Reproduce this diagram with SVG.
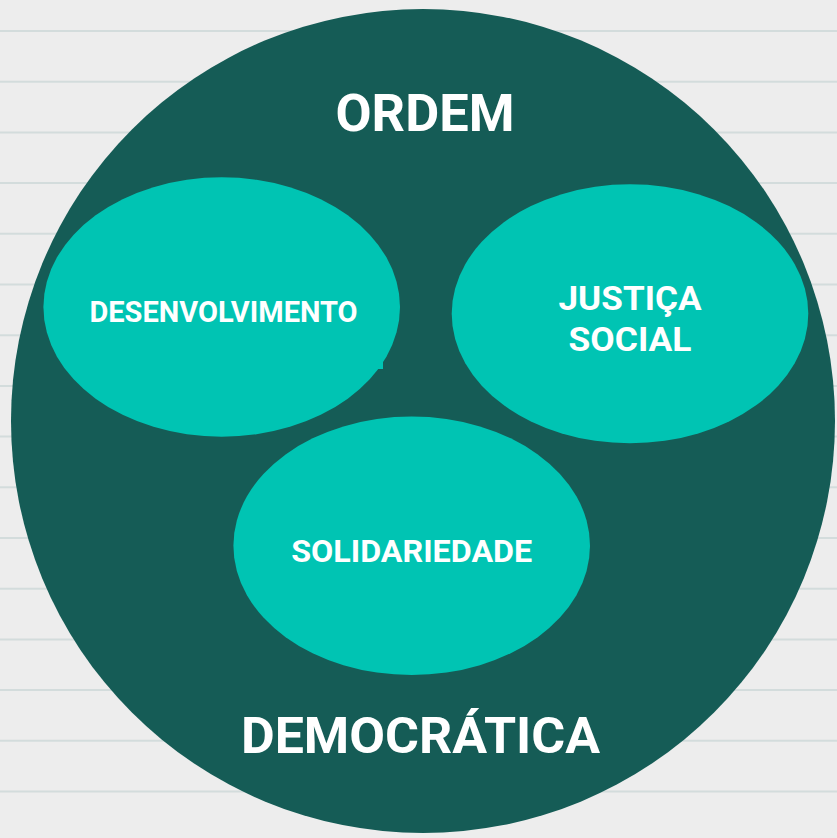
<svg xmlns="http://www.w3.org/2000/svg" width="837" height="838" viewBox="0 0 837 838">
  <defs>
    <style>
      .bg { fill: #ededed; }
      .rule { stroke: #d3dcdc; stroke-width: 2; }
      .outer { fill: #155c56; }
      .inner { fill: #00c4b3; }
      .t { font-family: Roboto, "Liberation Sans", sans-serif; font-weight: 700; fill: #ffffff; text-anchor: middle; }
    </style>
  </defs>
  <rect class="bg" x="0" y="0" width="837" height="838"/>
  <g id="rules">
    <line class="rule" x1="0" y1="31" x2="837" y2="31"/>
    <line class="rule" x1="0" y1="81.7" x2="837" y2="81.7"/>
    <line class="rule" x1="0" y1="132.4" x2="837" y2="132.4"/>
    <line class="rule" x1="0" y1="183.1" x2="837" y2="183.1"/>
    <line class="rule" x1="0" y1="233.8" x2="837" y2="233.8"/>
    <line class="rule" x1="0" y1="284.5" x2="837" y2="284.5"/>
    <line class="rule" x1="0" y1="335.2" x2="837" y2="335.2"/>
    <line class="rule" x1="0" y1="385.9" x2="837" y2="385.9"/>
    <line class="rule" x1="0" y1="436.6" x2="837" y2="436.6"/>
    <line class="rule" x1="0" y1="487.3" x2="837" y2="487.3"/>
    <line class="rule" x1="0" y1="538" x2="837" y2="538"/>
    <line class="rule" x1="0" y1="588.7" x2="837" y2="588.7"/>
    <line class="rule" x1="0" y1="639.4" x2="837" y2="639.4"/>
    <line class="rule" x1="0" y1="690.1" x2="837" y2="690.1"/>
    <line class="rule" x1="0" y1="740.8" x2="837" y2="740.8"/>
    <line class="rule" x1="0" y1="791.5" x2="837" y2="791.5"/>
  </g>
  <g id="ordem-democratica">
    <circle class="outer" cx="423" cy="421" r="412"/>
    <text class="t" x="425" y="131" font-size="51" textLength="179" lengthAdjust="spacingAndGlyphs">ORDEM</text>
    <text class="t" x="420.5" y="753" font-size="50.5" textLength="359" lengthAdjust="spacingAndGlyphs">DEMOCRÁTICA</text>
  </g>
  <g id="desenvolvimento">
    <ellipse class="inner" cx="221.7" cy="307" rx="178.3" ry="129.7"/>
    <rect class="inner" x="377" y="362" width="6" height="7"/>
    <text class="t" x="223.5" y="321.5" font-size="29">DESENVOLVIMENTO</text>
  </g>
  <g id="justica-social">
    <ellipse class="inner" cx="630" cy="313.8" rx="178.3" ry="129.5"/>
    <text class="t" x="630" y="310" font-size="33.5" textLength="143" lengthAdjust="spacingAndGlyphs">JUSTIÇA</text>
    <text class="t" x="630" y="351" font-size="33.5" textLength="123" lengthAdjust="spacingAndGlyphs">SOCIAL</text>
  </g>
  <g id="solidariedade">
    <ellipse class="inner" cx="411.7" cy="545.8" rx="178.3" ry="129.2"/>
    <text class="t" x="411.7" y="561.5" font-size="31.5" textLength="241" lengthAdjust="spacingAndGlyphs">SOLIDARIEDADE</text>
  </g>
  <g id="connectors"/>
</svg>
